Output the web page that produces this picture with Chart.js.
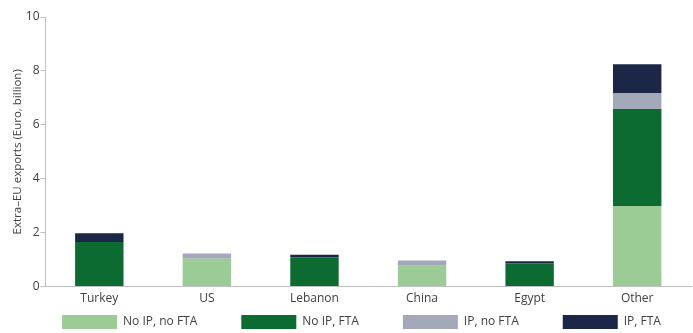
<!DOCTYPE html>
<html>
<head>
<meta charset="utf-8">
<script src="https://cdn.jsdelivr.net/npm/chart.js@4.4.0/dist/chart.umd.min.js"></script>
<style>
  html, body { margin: 0; padding: 0; background: #ffffff; }
  #wrap { width: 693px; height: 333px; position: relative; }
</style>
</head>
<body>
<div id="wrap"><canvas id="chart"></canvas></div>
<script>
// categorías y series (Euro, billion)
const countries = ["Turkey", "US", "Lebanon", "China", "Egypt", "Other"];
const noIpNoFta = [0, 1.03, 0, 0.77, 0, 2.99];
const noIpFta   = [1.65, 0, 1.09, 0, 0.87, 3.60];
const ipNoFta   = [0, 0.20, 0, 0.20, 0, 0.59];
const ipFta     = [0.33, 0, 0.09, 0, 0.07, 1.07];
const yTicks    = [0, 2, 4, 6, 8, 10];

const fontFam = "'Open Sans', 'Noto Sans', sans-serif";
const axisGrey = "#bfbfbf";
const textGrey = "#404040";
const legendPad = 44;

function makeSet(label, data, color) {
    return {
        label: label,
        data: data,
        backgroundColor: color,
        borderWidth: 0,
        barPercentage: 0.45,
        categoryPercentage: 1
    };
}

// leyenda compacta: separación horizontal amplia, poca altura
const compactLegend = {
    id: "compactLegend",
    beforeLayout(chart) {
        const lg = chart.legend;
        if (!lg || lg._compact) return;
        lg._compact = true;
        const origFit = lg.fit.bind(lg);
        lg.fit = function () {
            origFit();
            this.height = 20;
        };
        lg.draw = function () {
            if (!this.options.display) return;
            const ctx = this.ctx;
            ctx.save();
            ctx.translate(16, -(legendPad - 4));
            this._draw();
            ctx.restore();
        };
    }
};

new Chart(document.getElementById("chart"), {
    type: "bar",
    data: {
        labels: countries,
        datasets: [
            makeSet("No IP, no FTA", noIpNoFta, "#9ccc96"),
            makeSet("No IP, FTA", noIpFta, "#0c6b31"),
            makeSet("IP, no FTA", ipNoFta, "#a4a9b9"),
            makeSet("IP, FTA", ipFta, "#1c2748")
        ]
    },
    plugins: [compactLegend],
    options: {
        responsive: true,
        maintainAspectRatio: false,
        animation: false,
        layout: { padding: { left: 0, right: 2, top: 17, bottom: 2 } },
        plugins: {
            tooltip: { enabled: false },
            legend: {
                position: "bottom",
                labels: {
                    boxWidth: 55,
                    boxHeight: 14,
                    padding: legendPad,
                    color: textGrey,
                    font: { family: fontFam, size: 12 }
                }
            }
        },
        scales: {
            x: {
                stacked: true,
                grid: { display: false, drawTicks: false },
                border: { color: axisGrey, width: 1 },
                ticks: { color: textGrey, padding: 5, font: { family: fontFam, size: 12 } }
            },
            y: {
                stacked: true,
                min: 0,
                max: 10,
                afterBuildTicks: axis => { axis.ticks = yTicks.map(v => ({ value: v })); },
                grid: { display: true, drawOnChartArea: false, drawTicks: true, tickLength: 5, color: axisGrey },
                border: { color: axisGrey, width: 1 },
                title: {
                    display: true,
                    text: "Extra–EU exports (Euro, billion)",
                    color: textGrey,
                    padding: { top: 11, bottom: 0 },
                    font: { family: fontFam, size: 11.5 }
                },
                ticks: { color: textGrey, padding: 1, font: { family: fontFam, size: 12 } }
            }
        }
    }
});
</script>
</body>
</html>
